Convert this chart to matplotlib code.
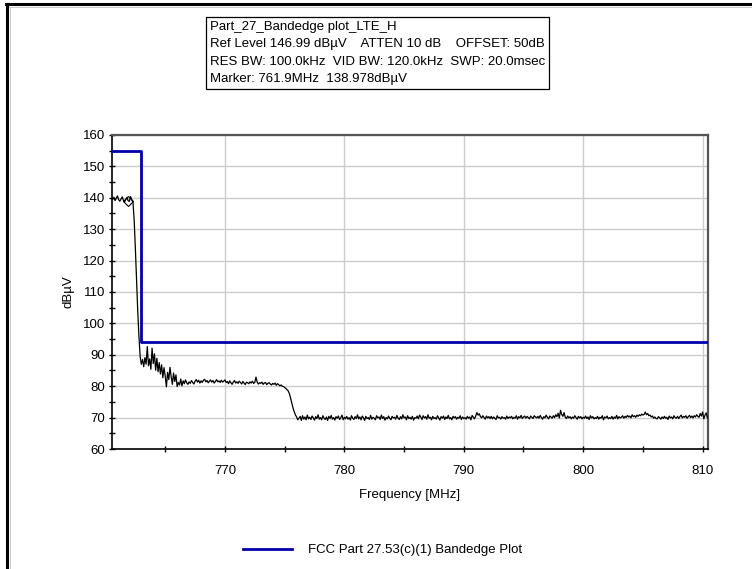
import numpy as np
import matplotlib
matplotlib.use("Agg")
import matplotlib.pyplot as plt
from matplotlib.lines import Line2D
from matplotlib.ticker import MultipleLocator

plt.rcParams['font.family'] = ['Liberation Sans', 'DejaVu Sans']

# ---- measured spectrum, stored in segments (start frequency, 0.1 MHz step) ----
trace_step = 0.1

seg_carrier_start = 760.6
seg_carrier = [139.5, 140.2, 139.1, 139.8, 140.6, 139.4, 138.9, 139.6, 140.3, 139.2,
               138.7, 139.5, 140.1, 139.0, 138.9, 140.4, 139.3, 138.6]

seg_edge_start = 762.4
seg_edge = [133.0, 124.0, 114.0, 104.0, 96.0, 89.5, 87.0]

seg_shoulder_start = 763.1
seg_shoulder = [88.5, 86.2, 89.1, 87.0, 92.6, 86.5, 88.7, 85.4, 92.1, 87.2,
                90.3, 85.1, 88.9, 84.6, 87.5, 83.9, 86.8, 82.7, 85.9, 83.2,
                79.8, 84.4, 82.1, 86.0, 83.0, 80.6, 84.2, 81.5, 83.6, 79.9]

seg_plateau_start = 766.1
seg_plateau = [81.2, 80.4, 82.3, 80.1, 81.7, 80.8, 82.0, 81.1, 80.6,
               81.4, 80.9, 81.8, 81.2, 80.7, 81.6, 82.1, 81.3, 81.9, 81.0,
               81.7, 81.2, 81.9, 82.2, 81.4, 81.8, 81.1, 81.6, 82.0, 81.3,
               81.8, 81.0, 81.5, 82.1, 81.4, 81.7, 81.2, 81.9, 81.3, 81.6,
               82.0, 81.2, 81.5, 80.8, 81.7, 81.1, 80.6, 81.3, 81.8, 81.0,
               81.4, 80.9, 81.6, 81.2, 80.7, 81.5, 81.0, 80.5, 81.3, 81.1,
               80.8, 81.4, 81.0, 81.6, 80.9, 81.2, 82.9, 81.3, 80.7, 81.1,
               80.9, 81.3, 80.6, 81.0, 81.2, 80.5, 80.9, 81.1, 80.7, 80.4,
               80.9, 80.6, 81.0, 80.3, 80.8, 80.5, 80.1, 80.4,
               80.0, 79.9, 79.6, 79.3, 78.9, 78.5, 77.6, 76.2, 74.6, 73.1,
               71.9, 70.9, 70.2, 69.3]

seg_floor_start = 776.2
seg_floor = [69.8, 70.4, 69.1, 70.6, 69.5, 70.2, 69.3, 70.8, 69.6, 70.1,
             69.4, 70.5, 69.9, 69.2, 70.3, 69.7, 70.9, 69.5, 70.0, 69.3,
             70.6, 69.8, 69.4, 70.2, 69.1, 70.4, 69.7, 70.7, 69.5, 70.0,
             69.2, 70.3, 69.8, 70.5, 69.4, 69.9, 70.8, 69.3, 70.1, 69.6,
             70.4, 69.5, 70.0, 69.2, 70.6, 69.8, 69.4, 70.3, 69.7, 70.9,
             69.6, 70.2, 69.3, 70.5, 69.9, 69.1, 70.4, 69.7, 70.0, 69.4,
             70.7, 69.5, 70.1, 69.8, 69.3, 70.6, 69.9, 70.2, 69.4, 70.8,
             69.7, 70.3, 69.2, 70.0, 69.6, 70.5, 69.8, 69.3, 70.4, 69.9,
             70.1, 69.5, 70.7, 69.8, 69.4, 70.3, 69.6, 70.9, 69.9, 70.2,
             69.3, 70.6, 69.7, 70.1, 69.5, 70.4, 69.2, 70.0, 69.8, 70.5,
             69.6, 70.8, 70.2, 69.4, 70.6, 69.9, 70.3, 69.5, 70.9, 69.8,
             70.1, 69.3, 70.4, 69.7, 70.0, 69.5, 70.6, 69.9, 69.2, 70.3,
             69.8, 70.5, 69.4, 70.2, 69.7, 70.7, 69.6, 70.0, 69.3, 70.4,
             69.9, 70.3, 69.5, 70.1, 69.8, 70.6, 69.4, 70.2, 69.7, 70.0,
             69.5, 70.4, 69.8, 70.2, 69.3, 70.7, 70.1, 69.6, 70.5, 71.6,
             70.8, 71.2, 70.3, 69.9, 70.6, 70.0, 69.5, 70.5, 69.9, 70.3,
             69.7, 70.4, 69.6, 70.2, 69.8, 69.4, 70.6, 69.9, 70.1, 69.5,
             70.3, 69.8, 70.0, 69.5, 70.5, 69.7, 70.2, 69.9, 70.4, 69.6,
             70.1, 69.8, 70.6, 69.5, 70.3, 69.9, 70.7, 69.7, 70.2, 70.5,
             69.8, 70.4, 70.0, 69.6, 70.5, 70.1, 69.7, 70.6, 70.2, 69.9,
             70.4, 69.8, 70.7, 70.0, 69.5, 70.3, 69.9, 70.8, 70.1, 69.6,
             70.5, 70.2, 69.8, 70.6, 70.0, 70.9, 70.3, 71.4, 69.9, 72.3,
             71.0, 70.4, 71.6, 70.1, 69.7, 70.5, 69.9, 70.3, 69.6, 70.2,
             69.8, 70.6, 70.0, 69.5, 70.4, 69.9, 70.3, 69.6, 70.1, 69.8,
             70.5, 69.7, 70.2, 69.4, 70.6, 69.9, 70.3, 69.6, 70.0, 69.7,
             70.4, 69.5, 70.1, 69.8, 70.6, 69.3, 70.2, 69.9, 70.5, 69.6,
             70.0, 69.7, 70.4, 69.5, 70.2, 69.8, 70.7, 69.6, 70.3, 69.9,
             70.1, 70.6, 69.8, 70.4, 70.0, 70.7, 70.2, 70.5, 69.9, 70.9,
             70.3, 70.6, 70.1, 70.8, 70.4, 70.9, 70.6, 71.1, 70.8, 71.0,
             71.8, 70.9, 71.3, 70.6, 70.8, 70.2, 70.5, 69.8, 70.2, 69.7,
             69.6, 70.3, 69.9, 69.5, 70.2, 69.7, 70.4, 69.8, 70.1, 69.4,
             70.5, 69.9, 70.2, 69.6, 70.6, 70.0, 69.8, 70.4, 69.7, 70.3,
             70.8, 69.9, 70.4, 70.1, 70.6, 69.8, 70.3, 70.7, 70.0, 70.5,
             69.9, 70.6, 70.2, 70.9, 70.4, 70.1, 71.3, 70.5, 71.8, 69.6,
             70.8, 71.5, 69.9]

segments = [(seg_carrier_start, seg_carrier),
            (seg_edge_start, seg_edge),
            (seg_shoulder_start, seg_shoulder),
            (seg_plateau_start, seg_plateau),
            (seg_floor_start, seg_floor)]

# ---- FCC limit line ----
limit_freq = [760.5, 763.0, 763.0, 810.5]
limit_level = [155.0, 155.0, 94.0, 94.0]
limit_label = "FCC Part 27.53(c)(1) Bandedge Plot"

# ---- marker ----
marker_freq = 761.9
marker_level = 138.978

info_lines = [
    "Part_27_Bandedge plot_LTE_H",
    "Ref Level 146.99 dB\u00b5V    ATTEN 10 dB    OFFSET: 50dB",
    "RES BW: 100.0kHz  VID BW: 120.0kHz  SWP: 20.0msec",
    "Marker: 761.9MHz  138.978dB\u00b5V",
]

x_ticks = [770, 780, 790, 800, 810]
y_ticks = [60, 70, 80, 90, 100, 110, 120, 130, 140, 150, 160]

freq = np.concatenate([start + trace_step * np.arange(len(vals)) for start, vals in segments])
level = np.concatenate([np.asarray(vals) for _, vals in segments])

W, H = 752, 569
FS = 9.5
fig = plt.figure(figsize=(W / 100, H / 100), dpi=100)
ax = fig.add_axes([111.7 / W, 1 - 449 / H, (708 - 111.7) / W, (449 - 135) / H])

ax.plot(freq, level, color='black', lw=0.9, zorder=3)
ax.plot([marker_freq], [marker_level], marker='D', ms=5, mfc='none', mec='black',
        mew=0.8, zorder=4)
limit_handle, = ax.plot(limit_freq, limit_level, color='#0000aa', lw=2.0, zorder=5,
                        label=limit_label)

ax.set_xlim(760.52, 810.45)
ax.set_ylim(60, 160)
ax.set_xticks(x_ticks)
ax.set_yticks(y_ticks)
ax.xaxis.set_minor_locator(MultipleLocator(5))
ax.yaxis.set_minor_locator(MultipleLocator(5))
ax.tick_params(which='both', direction='inout', length=5, width=1, labelsize=FS,
               colors='black')
ax.tick_params(axis='x', pad=9)
ax.tick_params(axis='y', pad=2)
ax.grid(True, which='major', color='#cccccc', lw=1.0, zorder=0)
ax.set_axisbelow(True)

for side in ('left', 'bottom'):
    ax.spines[side].set_color('black')
    ax.spines[side].set_linewidth(1.2)
for side in ('top', 'right'):
    ax.spines[side].set_color('#555555')
    ax.spines[side].set_linewidth(1.6)

ax.set_xlabel("Frequency [MHz]", fontsize=FS, labelpad=9)
ax.set_ylabel("dB\u00b5V", fontsize=FS, labelpad=6)

# information box above the plot
fig.text(210 / W, 1 - 21 / H, "\n".join(info_lines), ha='left', va='top',
         fontsize=FS, linespacing=1.6,
         bbox=dict(boxstyle='square,pad=0.3', fc='white', ec='black', lw=0.9))

fig.legend(handles=[limit_handle], loc='center left',
           bbox_to_anchor=(243 / W, 1 - 550 / H), frameon=False, fontsize=FS,
           handlelength=3.7, handletextpad=1.2, borderpad=0, borderaxespad=0)

# window frame along the top and left edges
fig.add_artist(Line2D([6 / W, 1], [1 - 4 / H, 1 - 4 / H], transform=fig.transFigure,
                      color='black', lw=2.2))
fig.add_artist(Line2D([7 / W, 7 / W], [0, 1 - 4 / H], transform=fig.transFigure,
                      color='black', lw=2.2))
fig.add_artist(Line2D([9 / W, 1], [1 - 6.5 / H, 1 - 6.5 / H], transform=fig.transFigure,
                      color='#c0c0c0', lw=0.6))
fig.add_artist(Line2D([9.5 / W, 9.5 / W], [0, 1 - 6.5 / H], transform=fig.transFigure,
                      color='#c0c0c0', lw=0.6))

fig.savefig("out.png", dpi=100)
